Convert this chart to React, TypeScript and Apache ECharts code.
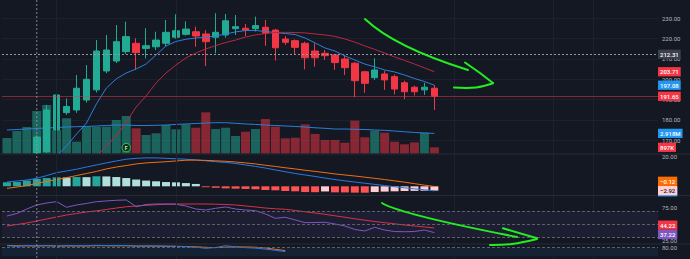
import React, { useEffect, useRef } from "react";
import * as echarts from "echarts";

const WIDTH = 690;
const HEIGHT = 259;
const SLOTS = 66; // bar slots on the time scale; the right part stays empty
const FONT = "Roboto, 'DejaVu Sans', sans-serif";

// Daily bars as [open, close, low, high]; the first three sessions sit below the visible range
const ohlc: (number[] | null)[] = [
  null, null, null,
  [163.8, 171.6, 163.6, 172.5],
  [164.4, 184.9, 163.7, 187.4],
  [175.1, 192.3, 173.5, 199.7],
  [183.6, 186.6, 182.5, 190.6],
  [184.9, 195.6, 183.5, 202.1],
  [189.8, 200, 188.5, 207],
  [194.8, 213.9, 193.5, 219.3],
  [204.1, 214.4, 203, 221.8],
  [209, 218.5, 208, 226.7],
  [213.6, 221, 212.5, 228.3],
  [217.7, 213.1, 204.6, 220.2],
  [215.2, 216.5, 210.3, 225.1],
  [216, 219.3, 214.4, 223.4],
  [217.7, 223.1, 216.4, 229.2],
  [220.7, 223.9, 220, 232],
  [222.1, 224.7, 221.5, 228.5],
  [223.4, 221.3, 216, 225.9],
  [222.3, 218.5, 206.5, 224.2],
  [220.7, 223.1, 212.8, 232.5],
  [221.8, 228.8, 220.5, 232.1],
  [224.9, 225.9, 221.8, 231.6],
  [225.1, 224.2, 221.3, 227.2],
  [224.9, 226.4, 223.5, 230.8],
  [225.6, 222.6, 216.4, 229.2],
  [224.2, 215.5, 209.2, 224.8],
  [219.8, 218.2, 216.9, 221.3],
  [219, 215.7, 212.4, 219.6],
  [217.7, 210.6, 204.9, 218.5],
  [213.9, 210.6, 206.2, 217.7],
  [212.8, 211.6, 209.5, 214.4],
  [212, 208.2, 204.6, 212.5],
  [210, 205.7, 202.1, 212],
  [207.9, 199.3, 191.2, 208.5],
  [203.7, 198, 193.4, 204.2],
  [200.8, 204.6, 199.7, 210.3],
  [202.6, 199.7, 194.8, 204.2],
  [201.3, 195.2, 192.6, 202.3],
  [198.3, 193.9, 190.3, 199.3],
  [196.1, 193.9, 192, 196.8],
  [194.8, 196.1, 192.3, 198.3],
  [195.6, 191.65, 184.9, 197.2],
];

// Volume in millions and its moving average
const volume = [
  2.25, 3.26, 3.84, 6.16, 7.03, 3.41, 5.1, 1.71, 3.89, 3.89, 3.89, 4.86, 5.44, 3.65, 2.68,
  2.93, 4.13, 3.51, 4.23, 3.74, 5.97, 3.55, 3.74, 2.54, 3.16, 3.55, 5.0, 3.89, 2.2, 2.29,
  4.23, 2.83, 1.96, 1.96, 1.57, 4.76, 2.35, 3.31, 3.02, 1.71, 1.33, 1.62, 3.02, 0.897,
];
const volumeMa = [
  3.41, 3.48, 3.55, 3.63, 3.7, 3.77, 3.84, 3.89, 3.92, 3.99, 4.06, 4.13, 4.13, 4.06, 4.06,
  4.09, 4.13, 4.21, 4.28, 4.35, 4.42, 4.47, 4.47, 4.38, 4.28, 4.21, 4.13, 4.06, 3.99, 3.92,
  3.84, 3.73, 3.65, 3.55, 3.55, 3.51, 3.48, 3.41, 3.36, 3.26, 3.15, 3.05, 2.97, 2.918,
];

// Price moving averages (fast blue, slow red)
const maFast = [
  null, null, null, null, null, 162.3, 167.2, 173.1, 178.5, 187.9, 195.7, 200.2, 203.1, 205.1, 207.5,
  212, 216.4, 218.6, 219.7, 220.3, 220.7, 221.3, 222.3, 223.3, 224, 224, 223.5, 223, 222.5, 222,
  220.3, 217.9, 215.4, 213.9, 211.5, 209.5, 207.5, 206.1, 204.6, 203.6, 202.1, 200.4, 198.9, 197.08,
];
const maSlow = [
  null, null, null, null, null, null, null, null, null, 161.8, 167.2, 172.1, 179, 186.4, 191.8,
  198.2, 203.1, 207, 210.5, 212.9, 214.9, 216.6, 218.1, 219.3, 220.8, 221.8, 222.5, 223, 223.1, 223,
  222.8, 222.3, 221.8, 221.1, 219.8, 218.3, 216.4, 214.7, 212.9, 211, 209.3, 207.5, 205.6, 203.71,
];

// MACD pane
const macdLine = [
  2.9, 3.6, 4.3, 5.4, 7.3, 9.3, 10.4, 11.6, 13.1, 14.5, 15.9, 17.2, 18.4, 19.0, 19.3,
  19.3, 19.0, 18.7, 18.4, 17.9, 17.3, 16.7, 16.2, 15.5, 14.5, 13.5, 12.4, 11.1, 9.9, 8.7,
  7.7, 6.7, 5.6, 4.6, 3.7, 2.9, 2.1, 1.3, 0.5, -0.3, -1.0, -1.7, -2.4, -3.04,
];
const signalLine = [
  -1.4, -0.5, 0.5, 2.0, 3.3, 4.6, 5.9, 7.3, 8.7, 10.1, 11.8, 13.1, 14.1, 15.2, 15.9,
  16.3, 16.7, 17.2, 17.7, 17.8, 17.6, 17.3, 17.0, 16.5, 15.9, 15.2, 14.3, 13.5, 12.6, 11.8,
  10.9, 10.1, 9.3, 8.4, 7.7, 7.0, 6.2, 5.4, 4.6, 3.7, 2.8, 1.8, 0.8, -0.12,
];
const macdHist = [
  2.7, 2.9, 3.9, 5.0, 5.6, 6.1, 5.9, 6.3, 6.2, 6.8, 6.7, 6.3, 5.6, 4.6, 3.9,
  3.4, 2.9, 2.7, 2.2, 1.6, -0.6, -1.0, -1.4, -1.6, -1.8, -2.0, -2.5, -2.7, -3.2, -3.4,
  -3.9, -4.0, -3.5, -4.1, -4.15, -4.3, -4.35, -3.9, -3.6, -3.4, -3.2, -3.1, -3.0, -2.92,
];

// RSI pane
const rsi = [
  62.4, 66.2, 73, 79.1, 82.1, 84.1, 75.6, 79.1, 81.4, 84.1, 85.2, 86.2, 86.7, 76.5, 79.8,
  80.6, 80.6, 80.2, 77.6, 73, 71.5, 74.1, 76.1, 73, 71.5, 70.5, 65.5, 58.9, 60.5, 56.4,
  52.3, 52.6, 52.9, 50.3, 47.3, 42, 39.7, 45.3, 41.2, 38.9, 38.6, 38.9, 41.2, 37.22,
];
const rsiMa = [
  47.3, 49.5, 51.8, 54.8, 57.9, 60.9, 63.9, 66.2, 68.5, 70.3, 72.3, 74.5, 76.4, 77.6, 78.6,
  79.5, 80.2, 80.6, 80.6, 80.6, 80.6, 80.3, 79.8, 79.1, 77.6, 76.1, 74.5, 73.3, 72.6, 70.8,
  68.8, 67, 65, 62.7, 60.5, 58.2, 56.1, 54.1, 52.3, 50.6, 48.8, 47.3, 45.8, 44.22,
];

// Stochastic pane (only the part above the bottom edge is known)
const stochK = [
  92, 87.5, 93.6, 89.1, 93.6, 87.5, 92.7, 89.8, 90.9, 95, 92, 91.4, 93.6, 87.5, 90.9,
  89.8, 88.6, 87.5, 85.2, 81.8, 73.9, 79.5, 91.4, 83.6, 78.4, 75, 68.2, 60, 51,
];
const stochD = [
  93.2, 90.9, 90.2, 89.8, 90.9, 89.8, 89.8, 90.2, 89.8, 91.4, 91.4, 90.9, 90.9, 89.8, 88.6,
  88.6, 88, 87.5, 85.7, 84.1, 80.7, 78.4, 81.4, 83.6, 83, 81.4, 76.1, 67, 58,
];

// Tick labels of the indicator panes
const macdTicks = [20];
const rsiTicks = [75, 25];
const rsiLevels = [70, 50, 30];
const stochTicks = [80];

// Time-scale grid slots
const timeGridSlots = [5, 17, 45, 55, 59];

// Cursor position and event marker
const crosshairIndex = 3;
const crosshairPrice = 212.31;
const eventIndex = 12;
const eventLabel = "F";

const UP = "#22ab94";
const DOWN = "#f23645";
const BG = "#141823";
const GRID_LINE = "#1d212c";
const AXIS_TEXT = "#b2b5be";
const LEFT = 2;
const PLOT_W = 656;

const isUp = (i: number) => {
  const c = ohlc[i];
  return c ? c[1] >= c[0] : true;
};

const fmt = (v: number) => (v < 0 ? "\u2212" : "") + Math.abs(v).toFixed(2);
const fmtVol = (v: number) => (v >= 1 ? v.toFixed(3) + "M" : Math.round(v * 1000) + "K");

function histColor(i: number) {
  const v = macdHist[i];
  const p = i > 0 ? macdHist[i - 1] : -Infinity;
  if (v >= 0) return v > p ? "#26a69a" : "#b2dfdb";
  return v > p ? "#ffcdd2" : "#ff5252";
}

function buildOption() {
  const cats = Array.from({ length: SLOTS }, (_, i) => String(i));
  const candleData = ohlc
    .map((c, i) => (c ? [i, c[0], c[1], c[2], c[3]] : null))
    .filter((d) => d !== null);

  const grids = [
    { left: LEFT, top: 0, width: PLOT_W, height: 153.5 },
    { left: LEFT, top: 93.5, width: PLOT_W, height: 60 },
    { left: LEFT, top: 154.5, width: PLOT_W, height: 40.5 },
    { left: LEFT, top: 196, width: PLOT_W, height: 47.5 },
    { left: LEFT, top: 244.5, width: PLOT_W, height: 44 },
  ];

  const xAxis = grids.map((_, g) => ({
    type: "category",
    gridIndex: g,
    data: cats,
    boundaryGap: true,
    axisLine: { show: false },
    axisTick: { show: false },
    axisLabel: { show: false },
    splitLine: { show: false },
  }));

  const sideLabel = {
    color: AXIS_TEXT,
    fontSize: 6,
    fontFamily: FONT,
    margin: 4,
    formatter: (v: number) => v.toFixed(2),
  };
  const bare = { axisLine: { show: false }, axisTick: { show: false } };

  const yAxis = [
    {
      gridIndex: 0,
      type: "value",
      position: "right",
      min: 163.5,
      max: 239,
      splitNumber: 8,
      minInterval: 10,
      maxInterval: 10,
      ...bare,
      axisLabel: { ...sideLabel, showMinLabel: false, showMaxLabel: false },
      splitLine: { lineStyle: { color: GRID_LINE, width: 1 }, showMinLine: false, showMaxLine: false },
    },
    { gridIndex: 1, type: "value", min: 0, max: 8.7, show: false },
    {
      gridIndex: 2,
      type: "value",
      position: "right",
      min: -5.9,
      max: 21.6,
      ...bare,
      axisLabel: { ...sideLabel, customValues: macdTicks },
      splitLine: { show: false },
    },
    {
      gridIndex: 3,
      type: "value",
      position: "right",
      min: 20.76,
      max: 92.7,
      ...bare,
      axisLabel: { ...sideLabel, customValues: rsiTicks },
      splitLine: { show: false },
    },
    {
      gridIndex: 4,
      type: "value",
      position: "right",
      min: 0,
      max: 100,
      ...bare,
      axisLabel: { ...sideLabel, customValues: stochTicks },
      splitLine: { show: false },
    },
  ];

  const line = (g: number, data: (number | null)[], color: string, z = 3, width = 1) => ({
    type: "line",
    xAxisIndex: g,
    yAxisIndex: g,
    data,
    z,
    symbol: "none",
    showSymbol: false,
    silent: true,
    clip: true,
    lineStyle: { color, width },
  });

  // faint vertical time grid, drawn in every pane
  const timeGrid = (g: number) => ({
    type: "line",
    xAxisIndex: g,
    yAxisIndex: g,
    data: [],
    z: 0,
    silent: true,
    markLine: {
      silent: true,
      symbol: "none",
      label: { show: false },
      lineStyle: { color: GRID_LINE, width: 1, type: "solid" },
      data: timeGridSlots.map((s) => ({ xAxis: s })),
    },
  });

  const lastClose = (ohlc[ohlc.length - 1] as number[])[1];

  const series: any[] = [
    timeGrid(0),
    timeGrid(2),
    timeGrid(3),
    timeGrid(4),
    {
      type: "bar",
      xAxisIndex: 1,
      yAxisIndex: 1,
      z: 1,
      barWidth: 9,
      silent: true,
      data: volume.map((v, i) => ({
        value: v,
        itemStyle: { color: isUp(i) ? "rgba(34,171,148,0.52)" : "rgba(242,54,69,0.52)" },
      })),
    },
    line(1, volumeMa, "#2a7fd4", 2),
    {
      type: "candlestick",
      xAxisIndex: 0,
      yAxisIndex: 0,
      z: 4,
      barWidth: 7,
      silent: true,
      clip: true,
      data: candleData,
      encode: { x: 0, y: [1, 2, 3, 4] },
      itemStyle: { color: UP, color0: DOWN, borderColor: UP, borderColor0: DOWN, borderWidth: 1 },
      markLine: {
        silent: true,
        symbol: "none",
        label: { show: false },
        data: [
          { yAxis: lastClose, lineStyle: { color: "rgba(242,54,69,0.5)", width: 1, type: "solid" } },
          { yAxis: crosshairPrice, lineStyle: { color: "#9598a1", width: 1, type: [2, 2] } },
        ],
      },
    },
    line(0, maFast, "#2b80d8", 5),
    line(0, maSlow, "#b8283f", 5),
    {
      type: "bar",
      xAxisIndex: 2,
      yAxisIndex: 2,
      z: 2,
      barWidth: 8,
      silent: true,
      data: macdHist.map((v, i) => ({ value: v, itemStyle: { color: histColor(i) } })),
    },
    line(2, macdLine, "#2979e8", 3),
    line(2, signalLine, "#f07012", 3),
    {
      ...line(3, rsi, "#7e57c2", 4),
      markArea: {
        silent: true,
        itemStyle: { color: "rgba(126,87,194,0.1)" },
        data: [[{ yAxis: rsiLevels[0] }, { yAxis: rsiLevels[2] }]],
      },
      markLine: {
        silent: true,
        symbol: "none",
        label: { show: false },
        lineStyle: { color: "#5d606b", width: 1, type: [3, 2] },
        data: rsiLevels.map((v) => ({ yAxis: v })),
      },
    },
    line(3, rsiMa, "#d8324a", 3),
    {
      ...line(4, stochK, "#2979e8", 4),
      markArea: {
        silent: true,
        itemStyle: { color: "rgba(33,150,243,0.08)" },
        data: [[{ yAxis: stochTicks[0] }, { yAxis: 20 }]],
      },
      markLine: {
        silent: true,
        symbol: "none",
        label: { show: false },
        lineStyle: { color: "#5d606b", width: 1, type: [3, 2] },
        data: [{ yAxis: stochTicks[0] }],
      },
    },
    line(4, stochD, "#f07012", 3),
  ];

  return {
    animation: false,
    backgroundColor: BG,
    grid: grids,
    xAxis,
    yAxis,
    series,
  };
}

function buildOverlay(chart: any) {
  const pt = (g: number, x: number, y: number) =>
    chart.convertToPixel({ xAxisIndex: g, yAxisIndex: g }, [x, y]) as number[];
  const last = ohlc.length - 1;
  const TAG_H = 9.3;
  const TAG_X = LEFT + PLOT_W;

  const tag = (y: number, text: string, bg: string, fg = "#ffffff", z = 60) => ({
    type: "text",
    x: TAG_X,
    y,
    z,
    silent: true,
    style: {
      text,
      fill: fg,
      backgroundColor: bg,
      padding: [1.6, 2, 1.4, 2],
      fontSize: 6,
      fontFamily: FONT,
      fontWeight: 500,
      lineHeight: 6.3,
      verticalAlign: "middle",
      align: "left",
    },
  });

  const lastClose = (ohlc[last] as number[])[1];

  // price pane
  const yCross = pt(0, crosshairIndex, crosshairPrice)[1];
  const ySlow = pt(0, last, maSlow[last] as number)[1];
  const yFast = pt(0, last, maFast[last] as number)[1];
  const yClose = pt(0, last, lastClose)[1];

  // volume
  const yVolMa = pt(1, last, volumeMa[last])[1];
  const yVol = pt(1, last, volume[last])[1];

  // MACD
  const yHist = pt(2, last, macdHist[last])[1];
  const yMacd = pt(2, last, macdLine[last])[1];
  const ySig = Math.min(pt(2, last, signalLine[last])[1], yHist - TAG_H);

  // RSI: keep the two tags apart
  let yRsiMa = pt(3, last, rsiMa[last])[1];
  let yRsi = pt(3, last, rsi[last])[1];
  if (Math.abs(yRsi - yRsiMa) < TAG_H) {
    const mid = (yRsi + yRsiMa) / 2;
    yRsiMa = mid - TAG_H / 2 - 0.5;
    yRsi = mid + TAG_H / 2 - 0.5;
  }

  const xCross = pt(0, crosshairIndex, crosshairPrice)[0];
  const xEvent = pt(0, eventIndex, 170)[0];

  const sep = (y: number) => ({
    type: "line",
    silent: true,
    z: 40,
    shape: { x1: 0, y1: y, x2: WIDTH, y2: y },
    style: { stroke: "#262a36", lineWidth: 1 },
  });

  const pen = { stroke: "#22ee22", lineWidth: 2, fill: null, lineCap: "round", lineJoin: "round" };

  return [
    sep(154),
    sep(195.5),
    sep(244),
    {
      type: "line",
      silent: true,
      z: 45,
      shape: { x1: xCross, y1: 0, x2: xCross, y2: HEIGHT },
      style: { stroke: "#9598a1", lineWidth: 1, lineDash: [2, 2], opacity: 0.85 },
    },
    // event marker
    {
      type: "circle",
      silent: true,
      z: 50,
      shape: { cx: xEvent, cy: 147.6, r: 4.2 },
      style: { fill: "#10301c", stroke: "#2fd24a", lineWidth: 1 },
    },
    {
      type: "text",
      silent: true,
      z: 51,
      x: xEvent,
      y: 147.8,
      style: {
        text: eventLabel,
        fill: "#cfeedd",
        fontSize: 5,
        fontFamily: FONT,
        fontWeight: 700,
        align: "center",
        verticalAlign: "middle",
      },
    },
    // price scale tags
    tag(yCross, fmt(crosshairPrice), "#3b3f4c"),
    tag(ySlow, fmt(maSlow[last] as number), "#f23645"),
    tag(yFast, fmt(maFast[last] as number), "#2196f3"),
    tag(yClose, fmt(lastClose), "#f23645"),
    tag(yVolMa, fmtVol(volumeMa[last]), "#2196f3"),
    tag(yVol, fmtVol(volume[last]), "#f23645"),
    tag(yMacd + 1, fmt(macdLine[last]), "#2196f3", "#ffffff", 58),
    tag(yHist, fmt(macdHist[last]), "#ffcdd2", "#131722", 59),
    tag(ySig, fmt(signalLine[last]), "#ff6d00"),
    tag(yRsiMa, fmt(rsiMa[last]), "#f23645"),
    tag(yRsi, fmt(rsi[last]), "#7e57c2"),
    // hand-drawn arrows
    {
      type: "bezierCurve",
      silent: true,
      z: 70,
      shape: { x1: 365, y1: 19, cpx1: 385, cpy1: 38, cpx2: 420, cpy2: 55, x2: 468, y2: 70 },
      style: pen,
    },
    { type: "polyline", silent: true, z: 70, shape: { points: [[465, 62.5], [480, 73], [493, 83]] }, style: pen },
    {
      type: "polyline",
      silent: true,
      z: 70,
      shape: { points: [[454, 87.5], [476, 87.5], [493, 83.3]], smooth: 0.4 },
      style: pen,
    },
    {
      type: "bezierCurve",
      silent: true,
      z: 70,
      shape: { x1: 382, y1: 203, cpx1: 395, cpy1: 211, cpx2: 440, cpy2: 222, x2: 517, y2: 237 },
      style: pen,
    },
    { type: "polyline", silent: true, z: 70, shape: { points: [[503, 228.3], [537, 238.3]] }, style: pen },
    {
      type: "polyline",
      silent: true,
      z: 70,
      shape: { points: [[490, 245], [512, 244], [537, 239]], smooth: 0.4 },
      style: pen,
    },
  ];
}

export default function App() {
  const ref = useRef<HTMLDivElement>(null);

  useEffect(() => {
    document.body.style.margin = "0";
    const chart = echarts.init(ref.current as HTMLDivElement, null, { renderer: "svg" });
    chart.setOption(buildOption() as any);
    chart.setOption({ graphic: buildOverlay(chart) } as any);
    return () => chart.dispose();
  }, []);

  return (
    <div
      ref={ref}
      style={{ position: "fixed", left: 0, top: 0, width: WIDTH, height: HEIGHT, background: BG }}
    />
  );
}
